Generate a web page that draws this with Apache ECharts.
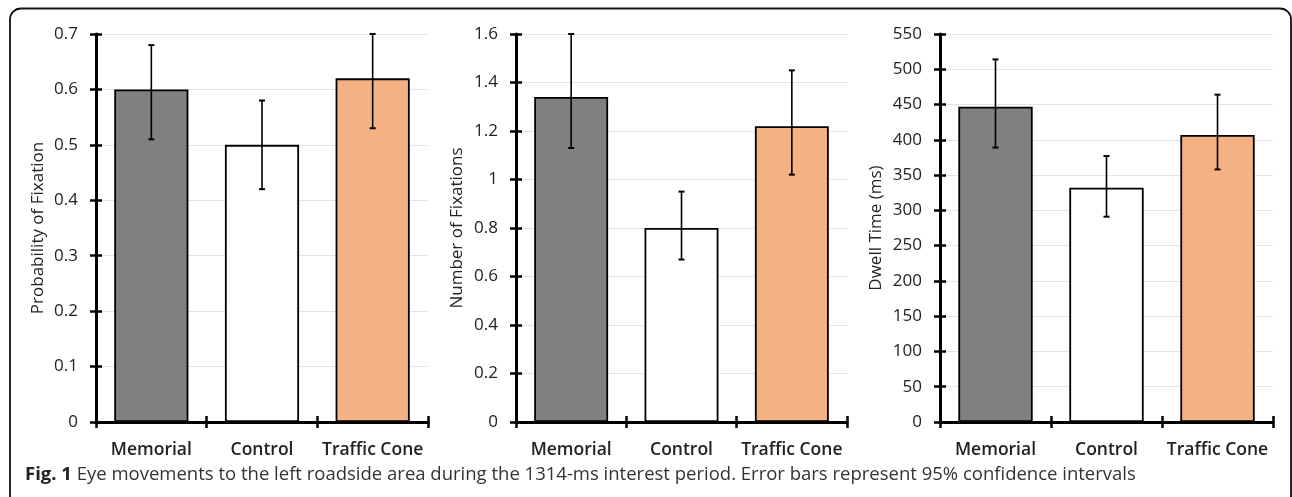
<!DOCTYPE html>
<html><head><meta charset="utf-8">
<script src="https://cdn.jsdelivr.net/npm/echarts@6/dist/echarts.min.js"></script>
<style>html,body{margin:0;padding:0;background:#fff}#c{width:1292px;height:497px}</style>
</head><body><div id="c"></div>
<script>
const categories = ['Memorial', 'Control', 'Traffic Cone'];
const barColors = ['#808080', '#ffffff', '#F4B183'];

const probValues = [0.60, 0.50, 0.62];
const probLow = [0.51, 0.42, 0.53];
const probHigh = [0.68, 0.58, 0.70];

const fixValues = [1.34, 0.80, 1.22];
const fixLow = [1.13, 0.67, 1.02];
const fixHigh = [1.60, 0.95, 1.45];

const dwellValues = [447, 332, 407];
const dwellLow = [389, 291, 358];
const dwellHigh = [514, 377, 464];

const panels = [
  {name: 'Probability of Fixation', max: 0.7, interval: 0.1, values: probValues, low: probLow, high: probHigh, left: 96, width: 332, gap: 49},
  {name: 'Number of Fixations', max: 1.6, interval: 0.2, values: fixValues, low: fixLow, high: fixHigh, left: 516, width: 331, gap: 50},
  {name: 'Dwell Time (ms)', max: 550, interval: 50, values: dwellValues, low: dwellLow, high: dwellHigh, left: 940, width: 333, gap: 55}
];

const FONT = 'Open Sans';
const grid = [], xAxis = [], yAxis = [], series = [];
panels.forEach((p, i) => {
  grid.push({left: p.left, top: 34, width: p.width, height: 388});
  const tickStyle = {color: '#000', width: 2.5};
  xAxis.push({
    type: 'category', gridIndex: i, data: categories,
    axisLine: {lineStyle: {color: '#000', width: 3}},
    axisTick: {show: true, length: 6, lineStyle: tickStyle},
    axisLabel: {interval: 0, margin: 19, fontFamily: FONT, fontSize: 17.5, fontWeight: 600, color: '#222'},
    splitLine: {show: false}
  });
  xAxis.push({
    type: 'category', gridIndex: i, data: categories, position: 'bottom',
    axisLine: {show: false},
    axisTick: {show: true, inside: true, length: 6, lineStyle: tickStyle},
    axisLabel: {show: false}, splitLine: {show: false}
  });
  yAxis.push({
    type: 'value', gridIndex: i, min: 0, max: p.max, interval: p.interval,
    name: p.name, nameLocation: 'middle', nameGap: p.gap,
    nameTextStyle: {fontFamily: FONT, fontSize: 17, color: '#222'},
    axisLine: {show: true, lineStyle: {color: '#000', width: 3}},
    axisTick: {show: true, length: 6, lineStyle: tickStyle},
    axisLabel: {margin: 18, fontFamily: FONT, fontSize: 17, color: '#222'},
    splitLine: {show: true, lineStyle: {color: '#e4e4e4', width: 1}}
  });
  yAxis.push({
    type: 'value', gridIndex: i, min: 0, max: p.max, interval: p.interval, position: 'left',
    axisLine: {show: false},
    axisTick: {show: true, inside: true, length: 6, lineStyle: tickStyle},
    axisLabel: {show: false}, splitLine: {show: false}
  });
  series.push({
    type: 'bar', xAxisIndex: 2 * i, yAxisIndex: 2 * i, barWidth: '67%',
    data: p.values.map((v, k) => ({value: v, itemStyle: {color: barColors[k], borderColor: '#000', borderWidth: 1.8}})),
    silent: true, z: 2
  });
  series.push({
    type: 'custom', xAxisIndex: 2 * i, yAxisIndex: 2 * i, z: 5, silent: true,
    data: p.values.map((v, k) => [k, p.low[k], p.high[k]]),
    renderItem: function (params, api) {
      const lo = api.coord([api.value(0), api.value(1)]);
      const hi = api.coord([api.value(0), api.value(2)]);
      const cw = 3;
      const st = {stroke: '#000', lineWidth: 1.6};
      return {type: 'group', children: [
        {type: 'line', shape: {x1: lo[0], y1: lo[1], x2: hi[0], y2: hi[1]}, style: st},
        {type: 'line', shape: {x1: hi[0] - cw, y1: hi[1], x2: hi[0] + cw, y2: hi[1]}, style: {stroke: '#000', lineWidth: 2}},
        {type: 'line', shape: {x1: lo[0] - cw, y1: lo[1], x2: lo[0] + cw, y2: lo[1]}, style: {stroke: '#000', lineWidth: 2}}
      ]};
    }
  });
});

const chart = echarts.init(document.getElementById('c'));
chart.setOption({
  animation: false,
  backgroundColor: '#fff',
  grid, xAxis, yAxis, series,
  graphic: [
    {type: 'rect', shape: {x: 10, y: 8.5, width: 1281, height: 540, r: 11}, style: {fill: 'none', stroke: '#111', lineWidth: 1.8}, z: 0},
    {type: 'text', left: 25, top: 465, style: {
      text: '{b|Fig. 1} Eye movements to the left roadside area during the 1314-ms interest period. Error bars represent 95% confidence intervals',
      fontFamily: FONT, fontSize: 18.5, fill: '#333',
      rich: {b: {fontFamily: FONT, fontSize: 18.5, fontWeight: 'bold', fill: '#222'}}
    }}
  ]
});
</script></body></html>
